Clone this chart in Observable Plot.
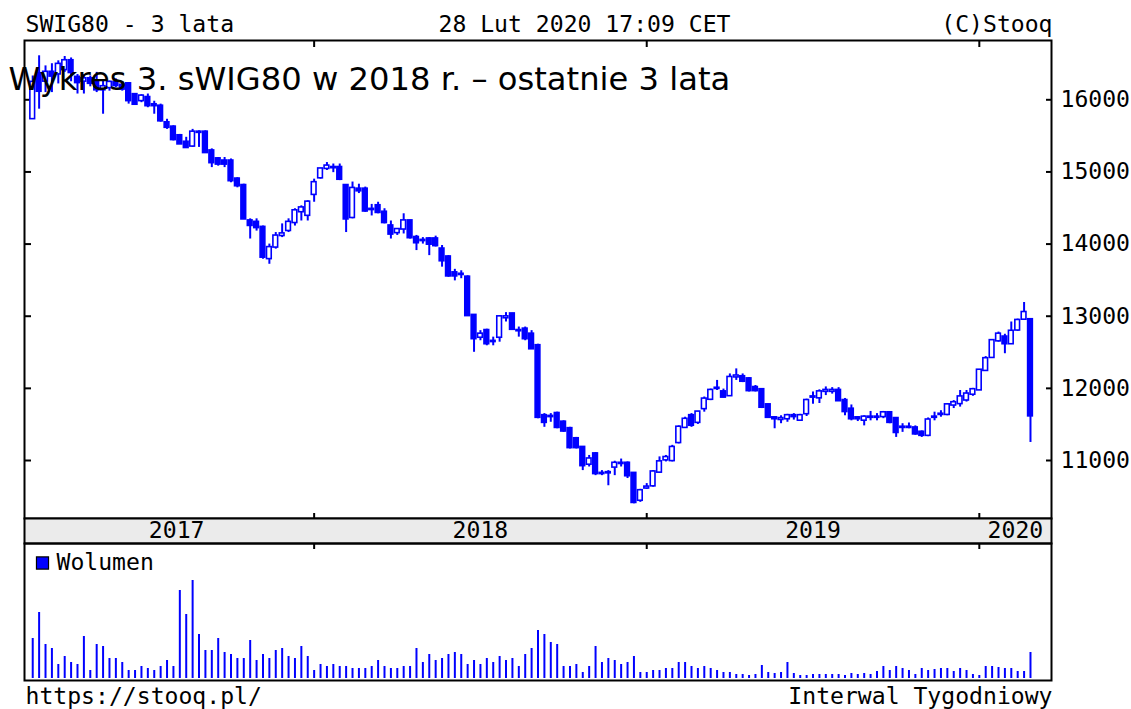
<!DOCTYPE html>
<html>
<head>
<meta charset="utf-8">
<script src="https://cdn.jsdelivr.net/npm/d3@7"></script>
<script src="https://cdn.jsdelivr.net/npm/@observablehq/plot@0.6"></script>
<style>
html, body { margin: 0; padding: 0; background: #fff; }
#wrap { position: relative; width: 1131px; height: 709px; overflow: hidden; background: #fff; }
#wrap > svg { position: absolute; left: 0; }
</style>
</head>
<body>
<div id="wrap"></div>
<script>
// ---- texts ----
const title = "Wykres 3. sWIG80 w 2018 r. – ostatnie 3 lata";
const headerLeft = "SWIG80 - 3 lata";
const headerCenter = "28 Lut 2020 17:09 CET";
const headerRight = "(C)Stooq";
const footerLeft = "https://stooq.pl/";
const footerRight = "Interwal Tygodniowy";
const volumeLabel = "Wolumen";

// ---- time frame (weekly candles, Fridays) ----
const firstWeek = "2017-03-03";
const lastWeek = "2020-02-28";
const xStart = "2017-02-22";
const xEnd = "2020-03-22";

// ---- price axis ----
const priceTicks = [11000, 12000, 13000, 14000, 15000, 16000];
const priceDomain = [10196, 16822];
const volumeDomain = [0, 135];

// ---- weekly OHLC ----
const open = [
15740,16360,16260,16380,16360,16420,16540,16310,16260,16290,16260,16140,16170,16240,16200,16220,16070,15990,16030,15930,
15910,15680,15620,15500,15410,15360,15550,15550,15290,15180,15150,15150,14900,14810,14320,14300,14230,13800,13960,14120,
14190,14300,14450,14400,14690,14920,15050,15060,15060,14810,14370,14760,14760,14480,14530,14440,14250,14160,14210,14320,
14090,14050,14070,14070,13930,13820,13600,13580,13540,13010,12710,12800,12650,12710,12980,13030,12800,12820,12750,12590,
11620,11610,11650,11530,11440,11300,11180,10950,11090,10820,10830,10910,10960,10960,10820,10450,10620,10650,10840,11010,
11000,11250,11460,11620,11530,11720,11850,12000,11950,11900,12160,12160,12130,12010,11980,11770,11590,11570,11580,11620,
11560,11650,11880,11870,11960,11960,11970,11830,11710,11590,11560,11600,11600,11610,11660,11580,11460,11460,11450,11390,
11350,11600,11640,11640,11770,11790,11840,11920,11980,12250,12430,12660,12710,12620,12810,12960,12950];
const high = [
16330,16610,16470,16500,16540,16600,16580,16350,16350,16330,16380,16260,16260,16290,16250,16240,16080,16070,16080,15980,
15940,15730,15640,15520,15480,15590,15570,15570,15320,15200,15200,15180,14920,14830,14350,14350,14250,14000,14160,14280,
14350,14490,14530,14600,14900,15050,15130,15110,15110,14810,14860,14830,14790,14550,14580,14490,14320,14210,14420,14330,
14120,14090,14090,14110,13980,13840,13650,13630,13560,13010,12800,12820,12710,13010,13050,13040,12850,12850,12800,12610,
11650,11650,11670,11550,11460,11320,11190,11070,11110,10860,10860,10990,11020,10980,10820,10600,10680,10860,11050,11070,
11210,11480,11600,11650,11680,11880,11990,12110,11990,12200,12270,12200,12150,12040,11990,11780,11600,11620,11640,11650,
11640,11850,11950,11980,12020,12010,12010,11860,11770,11610,11620,11680,11650,11680,11670,11590,11510,11520,11480,11410,
11590,11670,11690,11790,11830,11970,11970,12000,12260,12440,12670,12780,12750,12920,12960,13190,12950];
const low = [
15730,15870,16100,16100,16220,16380,16250,16080,16080,16180,16100,15800,16120,16170,16120,15940,15940,15960,15890,15800,
15690,15590,15430,15380,15340,15340,15340,15270,15060,15080,15060,14850,14780,14350,14070,14180,13790,13720,13930,14090,
14160,14250,14320,14320,14580,14900,15020,14990,14880,14160,14350,14700,14440,14390,14420,14280,14070,14120,14140,14070,
13910,14000,13840,13960,13680,13540,13490,13520,13010,12500,12660,12590,12590,12640,12920,12810,12710,12660,12550,11580,
11460,11530,11440,11390,11160,11160,10860,10910,10790,10790,10650,10790,10910,10750,10400,10420,10600,10630,10820,10980,
10980,11230,11460,11460,11500,11670,11830,11970,11870,11890,12110,12080,11950,11950,11720,11590,11440,11510,11530,11560,
11550,11610,11780,11790,11900,11920,11820,11620,11550,11540,11480,11550,11550,11580,11510,11320,11390,11440,11350,11320,
11330,11550,11600,11620,11720,11740,11810,11890,11970,12240,12420,12640,12480,12610,12790,12950,11250];
const close = [
16240,16120,16380,16330,16490,16540,16380,16240,16290,16230,16140,16180,16240,16200,16150,15990,15940,16050,15920,15920,
15710,15620,15450,15390,15340,15550,15550,15270,15130,15110,15110,14880,14810,14350,14260,14230,13820,13950,14110,14140,
14300,14460,14500,14580,14850,15040,15080,15060,14900,14350,14770,14740,14460,14480,14440,14300,14140,14200,14320,14090,
14020,14050,14000,13980,13770,13560,13560,13580,13010,12690,12750,12620,12650,12990,12990,12820,12800,12690,12550,11600,
11530,11610,11460,11410,11180,11180,10930,11020,10820,10820,10830,10960,10960,10790,10420,10580,10630,10840,10980,11040,
11180,11460,11570,11490,11670,11850,11970,12000,11880,12150,12170,12100,11970,11970,11740,11600,11580,11580,11620,11610,
11620,11830,11880,11950,11970,11970,11830,11680,11580,11580,11600,11600,11600,11660,11530,11390,11460,11460,11370,11350,
11560,11600,11640,11770,11800,11880,11920,11980,12250,12410,12660,12750,12620,12790,12940,13050,11620];
// weekly volume (relative units)
const volume = [
40,66,34,30,14,22,16,14,42,8,34,32,20,20,16,8,8,12,10,8,
12,18,12,88,64,98,44,28,28,40,26,24,20,20,38,18,24,20,28,30,
22,20,32,22,8,14,12,14,12,12,10,10,10,12,18,12,10,10,12,12,
30,16,24,18,20,24,26,24,14,18,14,20,16,22,18,20,12,24,30,48,
44,36,34,12,12,14,6,12,32,16,20,18,14,16,22,6,6,8,8,10,
10,16,16,12,10,12,10,8,6,6,4,4,3,4,13,6,5,6,16,5,
3,3,4,4,4,4,4,3,5,4,5,4,7,12,8,12,10,8,4,10,
8,9,10,10,7,10,8,4,3,12,12,11,10,10,7,7,26];

// ---- build table ----
const BLUE = "#0000ff";
const dates = d3.utcFriday.range(new Date(firstWeek), d3.utcDay.offset(new Date(lastWeek), 1));
const candles = dates.map((date, i) => ({
  date, open: open[i], high: high[i], low: low[i], close: close[i], volume: volume[i]
}));
const up = candles.filter(d => d.close > d.open);
const down = candles.filter(d => d.close <= d.open);
const yearStarts = dates.filter((d, i) => i > 0 && d.getUTCFullYear() !== dates[i - 1].getUTCFullYear());
// label spans: from the first full week of data to the end of the visible frame
const edges = [dates[1], ...yearStarts, new Date(xEnd)];
const yearLabels = edges.slice(0, -1).map((e, i) => ({
  label: String(i === 0 ? dates[0].getUTCFullYear() : yearStarts[i - 1].getUTCFullYear()),
  mid: new Date((+e + +edges[i + 1]) / 2)
}));

const MONO = "'DejaVu Sans Mono', monospace";
const common = {
  width: 1131,
  marginLeft: 24,
  marginRight: 80,
  x: {type: "utc", domain: [new Date(xStart), new Date(xEnd)], label: null},
  style: {fontFamily: MONO, fontSize: "23.1px", background: "transparent", overflow: "visible", color: "#000"}
};
const bodyX1 = d => d3.utcHour.offset(d.date, -62);
const bodyX2 = d => d3.utcHour.offset(d.date, 62);

// ---- price panel ----
const price = Plot.plot({
  ...common,
  height: 520,
  marginTop: 40,
  marginBottom: 2,
  y: {domain: priceDomain, label: null},
  marks: [
    Plot.axisX({anchor: "top", ticks: yearStarts, tickSize: -6, tickFormat: () => "", label: null, strokeWidth: 2}),
    Plot.axisY({anchor: "left", ticks: priceTicks, tickSize: -7, tickFormat: () => "", label: null, strokeWidth: 2}),
    Plot.axisY({anchor: "right", ticks: priceTicks, tickSize: -6, tickPadding: 15, tickFormat: d => String(d), label: null, strokeWidth: 2}),
    Plot.ruleX(candles, {x: "date", y1: "low", y2: "high", stroke: BLUE, strokeWidth: 2}),
    Plot.rect(up, {x1: bodyX1, x2: bodyX2, y1: "open", y2: "close", fill: "#fff", stroke: BLUE, strokeWidth: 1.6, insetTop: -0.6, insetBottom: -0.6}),
    Plot.rect(down, {x1: bodyX1, x2: bodyX2, y1: "open", y2: "close", fill: BLUE, stroke: BLUE, strokeWidth: 1.6, insetTop: -0.6, insetBottom: -0.6}),
    Plot.frame({stroke: "#000", strokeWidth: 2}),
    Plot.text([headerLeft], {text: d => d, frameAnchor: "top-left", textAnchor: "start", lineAnchor: "bottom", dx: 1, dy: -8.4}),
    Plot.text([headerCenter], {text: d => d, frameAnchor: "top-left", textAnchor: "start", lineAnchor: "bottom", dx: 414, dy: -8.4}),
    Plot.text([headerRight], {text: d => d, frameAnchor: "top-right", textAnchor: "end", lineAnchor: "bottom", dx: 1, dy: -8.4}),
    Plot.text([title], {text: d => d, frameAnchor: "top-left", textAnchor: "start", lineAnchor: "bottom", dx: -16, dy: 49.3,
      fontFamily: "'DejaVu Sans', sans-serif", fontSize: 32.2, fill: "#000"})
  ]
});
price.style.top = "0px";

// ---- year band ----
const band = Plot.plot({
  ...common,
  height: 37,
  marginTop: 6,
  marginBottom: 6,
  marks: [
    Plot.frame({fill: "#ebebeb", stroke: "#000", strokeWidth: 2}),
    Plot.text(yearLabels, {x: "mid", text: "label", frameAnchor: "middle"}),
    Plot.axisX({anchor: "top", ticks: yearStarts, tickSize: 6, tickFormat: () => "", label: null, strokeWidth: 2}),
    Plot.axisX({anchor: "bottom", ticks: yearStarts, tickSize: 6, tickFormat: () => "", label: null, strokeWidth: 2})
  ]
});
band.style.top = "512px";

// ---- volume panel ----
const vol = Plot.plot({
  ...common,
  height: 169,
  marginTop: 3,
  marginBottom: 29,
  x: {...common.x, axis: null},
  y: {domain: volumeDomain, insetBottom: 2, axis: null},
  marks: [
    Plot.ruleX(candles, {x: "date", y: "volume", stroke: BLUE, strokeWidth: 2}),
    Plot.frame({stroke: "#000", strokeWidth: 2}),
    Plot.dot([volumeLabel], {frameAnchor: "top-left", dx: 18, dy: 19.5, symbol: "square", r: 6.8, fill: BLUE, stroke: "#000", strokeWidth: 1.2}),
    Plot.text([volumeLabel], {text: d => d, frameAnchor: "top-left", textAnchor: "start", lineAnchor: "bottom", dx: 32, dy: 26.3}),
    Plot.text([footerLeft], {text: d => d, frameAnchor: "bottom-left", textAnchor: "start", lineAnchor: "bottom", dx: 1, dy: 23}),
    Plot.text([footerRight], {text: d => d, frameAnchor: "bottom-right", textAnchor: "end", lineAnchor: "bottom", dx: 1, dy: 23})
  ]
});
vol.style.top = "540px";

const wrap = document.getElementById("wrap");
wrap.append(price, band, vol);
</script>
</body>
</html>
